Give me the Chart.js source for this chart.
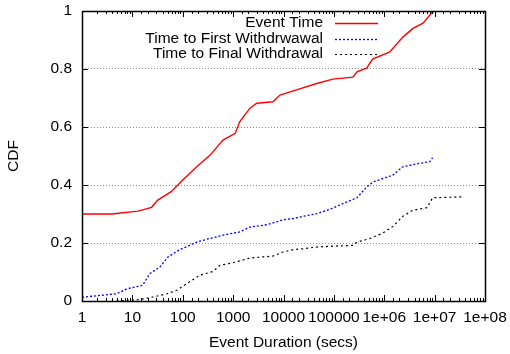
<!DOCTYPE html>
<html>
<head>
<meta charset="utf-8">
<script src="https://cdn.jsdelivr.net/npm/chart.js@4"></script>
<style>
  html, body { margin: 0; padding: 0; background: #fff; }
  #wrap { width: 510px; height: 354px; }
</style>
</head>
<body>
<div id="wrap"><canvas id="cdf"></canvas></div>
<script>
// Event Time
const eventX = [1, 3.9, 13, 24, 32, 59, 100, 190, 350, 630, 1100, 1350, 2140, 2950, 6170, 8510, 19500, 45700, 95500, 240000, 288000, 447000, 589000, 1290000, 2340000, 3720000, 5890000, 9120000, 10000000, 31600000];
const eventY = [0.300, 0.300, 0.310, 0.323, 0.348, 0.377, 0.417, 0.463, 0.503, 0.555, 0.578, 0.618, 0.664, 0.682, 0.687, 0.710, 0.730, 0.750, 0.765, 0.772, 0.790, 0.803, 0.834, 0.859, 0.910, 0.940, 0.958, 0.997, 1.0, 1.0];

// Time to First Withdrwawal
const firstX = [1, 4.9, 7.8, 16, 22, 35, 51, 87, 190, 300, 760, 1350, 2140, 4680, 9770, 15500, 24000, 45700, 83200, 151000, 288000, 447000, 589000, 1480000, 2340000, 5130000, 7940000, 9120000];
const firstY = [0.013, 0.025, 0.042, 0.054, 0.094, 0.117, 0.152, 0.177, 0.203, 0.213, 0.230, 0.238, 0.255, 0.263, 0.280, 0.284, 0.292, 0.301, 0.316, 0.336, 0.356, 0.393, 0.410, 0.434, 0.463, 0.475, 0.480, 0.494];

// Time to Final Withdrawal
const finalX = [4.9, 14, 26, 49, 76, 120, 220, 400, 550, 1000, 2140, 3890, 6170, 9770, 15500, 24000, 45700, 95500, 240000, 288000, 513000, 933000, 1480000, 2340000, 3720000, 7080000, 9120000, 34700000];
const finalY = [0.0, 0.005, 0.014, 0.025, 0.037, 0.060, 0.089, 0.102, 0.123, 0.132, 0.148, 0.152, 0.155, 0.169, 0.177, 0.180, 0.186, 0.189, 0.192, 0.203, 0.215, 0.234, 0.257, 0.292, 0.313, 0.322, 0.356, 0.359];

const yTicks = [0, 0.2, 0.4, 0.6, 0.8, 1];

function pts(xs, ys) {
  return xs.map((x, i) => ({ x: x, y: ys[i] }));
}

function isDecade(v) {
  const e = Math.log10(v);
  return Math.abs(e - Math.round(e)) < 1e-9;
}

function decadeLabel(v) {
  const e = Math.round(Math.log10(v));
  if (e < 6) return String(Math.pow(10, e));
  return "1e+" + (e < 10 ? "0" + e : e);
}

const FONT = "'Liberation Sans', Arial, sans-serif";
const FSIZE = 15.5;

// frame, inward tick marks and gnuplot-style legend
const gnuplotLook = {
  id: "gnuplotLook",
  afterDatasetsDraw(chart) {
    const ctx = chart.ctx;
    const a = chart.chartArea;
    const xs = chart.scales.x;
    const ys = chart.scales.y;
    ctx.save();
    ctx.strokeStyle = "#000";
    ctx.lineWidth = 1;
    ctx.setLineDash([]);
    ctx.beginPath();
    xs.ticks.forEach(t => {
      const px = Math.round(xs.getPixelForValue(t.value)) + 0.5;
      const len = isDecade(t.value) ? 6 : 3;
      ctx.moveTo(px, a.bottom); ctx.lineTo(px, a.bottom - len);
      ctx.moveTo(px, a.top); ctx.lineTo(px, a.top + len);
    });
    yTicks.forEach(v => {
      const py = Math.round(ys.getPixelForValue(v)) + 0.5;
      ctx.moveTo(a.left, py); ctx.lineTo(a.left + 6, py);
      ctx.moveTo(a.right, py); ctx.lineTo(a.right - 6, py);
    });
    ctx.stroke();
    ctx.lineWidth = 1.5;
    ctx.strokeRect(Math.round(a.left) + 0.5, Math.round(a.top) + 0.5,
      Math.round(a.right - a.left), Math.round(a.bottom - a.top));

    // legend
    ctx.font = FSIZE + "px " + FONT;
    ctx.textAlign = "right";
    ctx.textBaseline = "middle";
    chart.data.datasets.forEach((ds, i) => {
      const y = 23 + i * 15.5;
      ctx.fillStyle = "#000";
      ctx.fillText(ds.label, 323, y);
      ctx.strokeStyle = ds.borderColor;
      ctx.lineWidth = ds.borderWidth;
      ctx.setLineDash(ds.borderDash || []);
      ctx.beginPath();
      ctx.moveTo(335, Math.round(y) + 0.5);
      ctx.lineTo(378, Math.round(y) + 0.5);
      ctx.stroke();
    });
    ctx.restore();
  }
};

new Chart(document.getElementById("cdf"), {
  type: "line",
  data: {
    datasets: [
      {
        label: "Event Time",
        data: pts(eventX, eventY),
        borderColor: "#ff0000",
        borderWidth: 1.4,
        pointRadius: 0,
        tension: 0
      },
      {
        label: "Time to First Withdrwawal",
        data: pts(firstX, firstY),
        borderColor: "#0000ff",
        borderWidth: 1.3,
        borderDash: [2, 2],
        pointRadius: 0,
        tension: 0
      },
      {
        label: "Time to Final Withdrawal",
        data: pts(finalX, finalY),
        borderColor: "#000000",
        borderWidth: 1.2,
        borderDash: [2, 3],
        pointRadius: 0,
        tension: 0
      }
    ]
  },
  options: {
    responsive: true,
    maintainAspectRatio: false,
    animation: false,
    layout: { padding: { top: 11, right: 25, left: 4, bottom: 0 } },
    plugins: { legend: { display: false }, tooltip: { enabled: false } },
    scales: {
      x: {
        type: "logarithmic",
        min: 1,
        max: 1e8,
        grid: { display: false, drawTicks: false, tickLength: 0 },
        border: { display: false },
        ticks: {
          autoSkip: false,
          maxRotation: 0,
          padding: 7,
          color: "#000",
          font: { family: FONT, size: FSIZE },
          callback: v => (isDecade(v) ? decadeLabel(v) : "")
        },
        title: {
          display: true,
          text: "Event Duration (secs)",
          color: "#000",
          font: { family: FONT, size: FSIZE },
          padding: { top: 2, bottom: 2 }
        },
        afterFit: s => {
          s.height = 53;
          s.paddingLeft = 0;
          s.paddingRight = 0;
        }
      },
      y: {
        min: 0,
        max: 1,
        afterBuildTicks: s => { s.ticks = yTicks.map(v => ({ value: v })); },
        grid: {
          color: "#8a8a8a",
          lineWidth: 1,
          drawTicks: false
        },
        border: { display: false, dash: [1, 2] },
        ticks: {
          padding: 10,
          color: "#000",
          font: { family: FONT, size: FSIZE },
          callback: v => String(Math.round(v * 10) / 10)
        },
        title: {
          display: true,
          text: "CDF",
          color: "#000",
          font: { family: FONT, size: FSIZE },
          padding: { top: 0, bottom: 4 }
        },
        afterFit: s => {
          s.width = 78;
          s.paddingTop = 0;
          s.paddingBottom = 0;
        }
      }
    }
  },
  plugins: [gnuplotLook]
});
</script>
</body>
</html>
